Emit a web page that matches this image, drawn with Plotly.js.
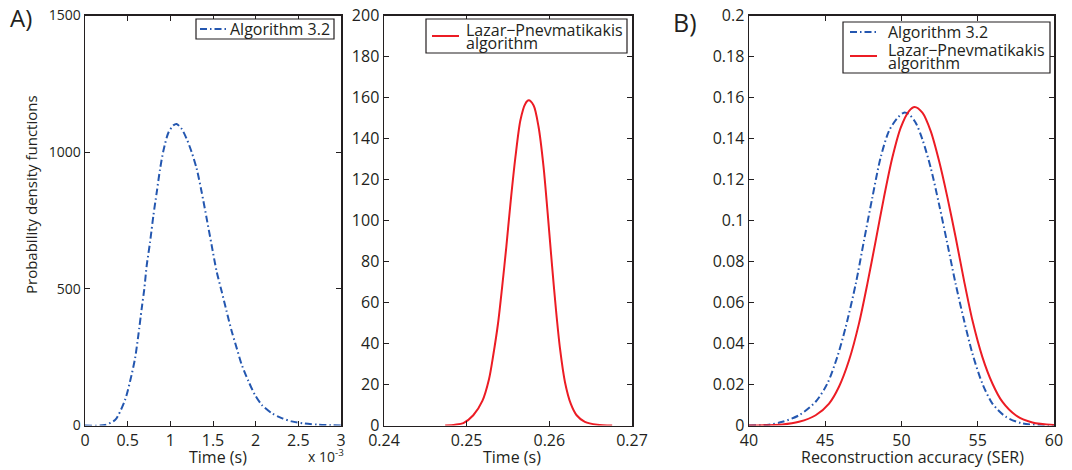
<!DOCTYPE html>
<html>
<head>
<meta charset="utf-8">
<script src="https://cdn.plot.ly/plotly-3.0.1.min.js"></script>
<style>
html,body{margin:0;padding:0;background:#fff;}
#chart{width:1072px;height:470px;}
</style>
</head>
<body>
<div id="chart"></div>
<script>
// ---- Panel A (left): Algorithm 3.2, time in units of 1e-3 s ----
const alg32TimeMs = [0, 0.234, 0.352, 0.391, 0.469, 0.527, 0.586, 0.625, 0.664, 0.695, 0.723, 0.762, 0.801, 0.840, 0.879, 0.918, 0.977, 1.035, 1.074, 1.133, 1.191, 1.25, 1.309, 1.367, 1.426, 1.484, 1.543, 1.602, 1.660, 1.719, 1.777, 1.836, 1.914, 1.992, 2.070, 2.188, 2.305, 2.422, 2.578, 2.734, 2.891, 3.0];
const alg32Pdf = [0, 2, 20, 38, 93, 160, 245, 330, 427, 500, 585, 670, 767, 852, 937, 1004, 1071, 1098, 1103, 1085, 1049, 1000, 939, 854, 757, 660, 563, 490, 417, 345, 284, 223, 163, 112, 76, 45, 27, 15, 7, 3, 1, 0];

// ---- Panel A (right): Lazar-Pnevmatikakis algorithm, time in s ----
const lpTime = [0.2474, 0.2486, 0.2496, 0.2508, 0.2519, 0.2527, 0.2532, 0.2538, 0.2543, 0.2548, 0.2553, 0.2559, 0.2565, 0.2571, 0.2575, 0.2581, 0.2587, 0.2593, 0.2598, 0.2603, 0.2608, 0.2613, 0.2619, 0.2626, 0.2633, 0.2643, 0.2658, 0.2676];
const lpPdf = [0, 0.4, 1.2, 5, 12, 22.6, 33.9, 50, 67.9, 87.3, 108.4, 131, 148.9, 157, 158.6, 156.1, 145.6, 126.2, 103.5, 79.3, 56.6, 37.2, 21, 10.5, 5, 1.8, 0.4, 0];

// ---- Panel B: reconstruction accuracy (SER) ----
const serAlg32X = [40, 41.31, 42.19, 43.28, 44.37, 45.14, 45.79, 46.34, 47.0, 47.54, 48.09, 48.63, 49.18, 49.73, 50.16, 50.49, 50.93, 51.37, 51.91, 52.46, 53.01, 53.55, 54.10, 54.65, 55.30, 55.96, 56.83, 57.93, 59.67, 60];
const serAlg32Pdf = [0, 0.0004, 0.0018, 0.005, 0.0116, 0.0205, 0.0335, 0.048, 0.0691, 0.0902, 0.1113, 0.1307, 0.1437, 0.150, 0.1526, 0.1518, 0.1477, 0.1396, 0.1259, 0.108, 0.0886, 0.0691, 0.0513, 0.0351, 0.0205, 0.0107, 0.0043, 0.001, 0.0002, 0.0001];
const serLpX = [40, 42.19, 43.28, 44.37, 45.25, 45.90, 46.56, 47.21, 47.76, 48.31, 48.85, 49.40, 49.95, 50.49, 50.86, 51.37, 51.91, 52.46, 53.01, 53.55, 54.10, 54.65, 55.30, 55.96, 56.61, 57.49, 58.58, 60];
const serLpPdf = [0, 0.0005, 0.0018, 0.005, 0.0107, 0.0189, 0.0318, 0.0497, 0.0691, 0.0902, 0.1113, 0.1307, 0.1453, 0.1534, 0.1554, 0.1526, 0.1437, 0.1291, 0.1113, 0.0918, 0.0707, 0.0513, 0.0335, 0.0205, 0.0116, 0.005, 0.0015, 0.0002];

// ---- Names and tick labels ----
const nameAlg32 = "Algorithm 3.2";
const nameLpLines = ["Lazar\u2212Pnevmatikakis", "algorithm"];
const p1XTicks = [0, 0.5, 1, 1.5, 2, 2.5, 3];
const p1XTickText = ["0", "0.5", "1", "1.5", "2", "2.5", "3"];
const p1YTicks = [0, 500, 1000, 1500];
const p2XTicks = [0.24, 0.25, 0.26, 0.27];
const p2XTickText = ["0.24", "0.25", "0.26", "0.27"];
const p2YTicks = [0, 20, 40, 60, 80, 100, 120, 140, 160, 180, 200];
const p3XTicks = [40, 45, 50, 55, 60];
const p3YTicks = [0, 0.02, 0.04, 0.06, 0.08, 0.1, 0.12, 0.14, 0.16, 0.18, 0.2];
const p3YTickText = ["0", "0.02", "0.04", "0.06", "0.08", "0.1", "0.12", "0.14", "0.16", "0.18", "0.2"];
const xTitleTime = "Time (s)";
const xTitleSer = "Reconstruction accuracy (SER)";
const yTitle = "Probability density functions";

const blue = "#2457b0";
const red = "#ec1c24";
const ink = "#231f20";
const FONT = "Open Sans, Noto Sans, sans-serif";
const dashDot = "7px,3px,1.5px,3px";
const nameLp = nameLpLines.join(" ");

const traces = [
  {x: alg32TimeMs, y: alg32Pdf, type: "scatter", mode: "lines", name: nameAlg32,
   line: {color: blue, width: 2, dash: dashDot, shape: "spline", smoothing: 0.8},
   xaxis: "x", yaxis: "y"},
  {x: lpTime, y: lpPdf, type: "scatter", mode: "lines", name: nameLp,
   line: {color: red, width: 2, shape: "spline", smoothing: 0.8},
   xaxis: "x2", yaxis: "y2"},
  {x: serAlg32X, y: serAlg32Pdf, type: "scatter", mode: "lines", name: nameAlg32,
   line: {color: blue, width: 2, dash: dashDot, shape: "spline", smoothing: 0.8},
   xaxis: "x3", yaxis: "y3"},
  {x: serLpX, y: serLpPdf, type: "scatter", mode: "lines", name: nameLp,
   line: {color: red, width: 2, shape: "spline", smoothing: 0.8},
   xaxis: "x3", yaxis: "y3"}
];

const W = 1072, H = 470;
const px = v => v / W;
const py = v => (H - v) / H;
const yDom = [py(425.5), py(15.5)];

function axisBase(extra) {
  return Object.assign({
    showline: true, linecolor: ink, linewidth: 1.5, mirror: "ticks",
    ticks: "inside", ticklen: 5, tickwidth: 1, tickcolor: ink,
    showgrid: false, zeroline: false, automargin: false, fixedrange: true,
    tickfont: {family: FONT, size: 16, color: ink},
    tickmode: "array"
  }, extra);
}

function txt(text, x, y, size, opts) {
  return Object.assign({text: text, x: px(x), y: py(y), xref: "paper", yref: "paper",
    xanchor: "left", yanchor: "middle", showarrow: false,
    font: {family: FONT, size: size, color: ink}}, opts || {});
}

// Legend boxes (MATLAB-style: tight, framed), built from shapes + text
const shapes = [];
const legendText = [];
function legendBox(x0, y0, x1, y1) {
  shapes.push({type: "rect", xref: "paper", yref: "paper",
    x0: px(x0), x1: px(x1), y0: py(y1), y1: py(y0),
    line: {color: ink, width: 1.2}, fillcolor: "#ffffff", layer: "above"});
}
function legendEntry(xs, y, color, dash, lines, textX, textY, lineGap) {
  shapes.push({type: "line", xref: "paper", yref: "paper",
    x0: px(xs), x1: px(xs + 27), y0: py(y), y1: py(y),
    line: {color: color, width: 2, dash: dash}, layer: "above"});
  lines.forEach((t, i) => legendText.push(txt(t, textX, textY + i * lineGap, 16)));
}
legendBox(196, 19, 334, 39);
legendEntry(200, 29, blue, dashDot, [nameAlg32], 228, 29, 0);
legendBox(426, 19, 627, 53);
legendEntry(432, 36, red, "solid", nameLpLines, 464, 30, 13);
legendBox(843, 22, 1050, 73);
legendEntry(850, 32, blue, dashDot, [nameAlg32], 886, 32, 0);
legendEntry(850, 56, red, "solid", nameLpLines, 886, 50, 13);

const layout = {
  width: W, height: H,
  margin: {l: 0, r: 0, t: 0, b: 0},
  paper_bgcolor: "#ffffff", plot_bgcolor: "#ffffff",
  font: {family: FONT, color: ink},
  showlegend: false,
  hovermode: false,
  xaxis: axisBase({domain: [px(85), px(341)], range: [0, 3], anchor: "y",
    tickvals: p1XTicks, ticktext: p1XTickText}),
  yaxis: axisBase({domain: yDom, range: [0, 1500], anchor: "x",
    tickvals: p1YTicks, ticktext: p1YTicks.map(String),
    tickfont: {family: FONT, size: 14, color: ink}}),
  xaxis2: axisBase({domain: [px(384), px(632)], range: [0.24, 0.27], anchor: "y2",
    tickvals: p2XTicks, ticktext: p2XTickText}),
  yaxis2: axisBase({domain: yDom, range: [0, 200], anchor: "x2",
    tickvals: p2YTicks, ticktext: p2YTicks.map(String)}),
  xaxis3: axisBase({domain: [px(749), px(1054)], range: [40, 60], anchor: "y3",
    tickvals: p3XTicks, ticktext: p3XTicks.map(String)}),
  yaxis3: axisBase({domain: yDom, range: [0, 0.2], anchor: "x3",
    tickvals: p3YTicks, ticktext: p3YTickText}),
  shapes: shapes,
  annotations: [
    txt("A)", 8, 17, 24),
    txt("B)", 671, 22, 25),
    txt(yTitle, 31, 195, 15, {xanchor: "center", textangle: -90}),
    txt(xTitleTime, 218, 457, 16, {xanchor: "center"}),
    txt(xTitleTime, 512, 457, 16, {xanchor: "center"}),
    txt(xTitleSer, 912, 457, 16, {xanchor: "center"}),
    txt("x 10<sup>-3</sup>", 306, 456, 14)
  ].concat(legendText)
};

Plotly.newPlot("chart", traces, layout, {staticPlot: true, displayModeBar: false});
</script>
</body>
</html>
